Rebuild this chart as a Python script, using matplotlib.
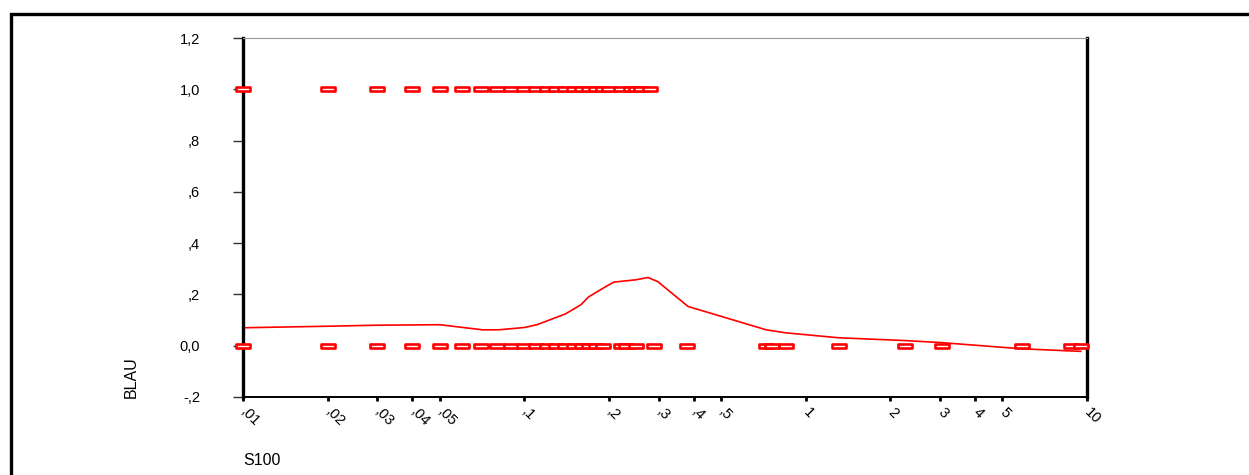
import numpy as np
import matplotlib
matplotlib.use("Agg")
import matplotlib.pyplot as plt
from matplotlib.path import Path
from matplotlib.patches import Rectangle

plt.rcParams['font.family'] = ['Liberation Sans', 'DejaVu Sans']

# observed cases (BLAU = 1)
s100_blau1 = [0.01, 0.02, 0.03, 0.04, 0.05, 0.06, 0.07, 0.08, 0.09, 0.1, 0.11, 0.12,
              0.13, 0.14, 0.15, 0.16, 0.17, 0.18, 0.19, 0.2, 0.22, 0.24, 0.25, 0.26, 0.28]
# observed cases (BLAU = 0)
s100_blau0 = [0.01, 0.02, 0.03, 0.04, 0.05, 0.06, 0.07, 0.08, 0.09, 0.1, 0.11, 0.12,
              0.13, 0.14, 0.15, 0.16, 0.17, 0.18, 0.19, 0.22, 0.23, 0.25, 0.29, 0.38,
              0.72, 0.76, 0.85, 1.31, 2.26, 3.04, 5.86, 8.8, 9.5]
# smoothed fit line
fit_x = [0.01, 0.02, 0.03, 0.04, 0.05, 0.071, 0.081, 0.1, 0.111, 0.14, 0.159, 0.169,
         0.195, 0.208, 0.249, 0.275, 0.298, 0.382, 0.724, 0.853, 1.31, 2.26, 3.04, 5.86, 9.5]
fit_y = [0.070, 0.076, 0.080, 0.081, 0.082, 0.062, 0.062, 0.071, 0.082, 0.124, 0.160, 0.190,
         0.231, 0.248, 0.257, 0.266, 0.250, 0.153, 0.062, 0.050, 0.031, 0.020, 0.012, -0.012, -0.022]

xticks = [0.01, 0.02, 0.03, 0.04, 0.05, 0.1, 0.2, 0.3, 0.4, 0.5, 1, 2, 3, 4, 5, 10]
xlabels = [',01', ',02', ',03', ',04', ',05', ',1', ',2', ',3', ',4', ',5',
           '1', '2', '3', '4', '5', '10']
yticks = [-0.2, 0.0, 0.2, 0.4, 0.6, 0.8, 1.0, 1.2]
ylabels = ['-,2', '0,0', ',2', ',4', ',6', ',8', '1,0', '1,2']

W, H = 1249, 475
fig = plt.figure(figsize=(W / 100, H / 100), dpi=100)
ax = fig.add_axes([243 / W, 1 - 397 / H, (1087 - 243) / W, (397 - 38) / H])

box = Path([(-1, -0.33), (1, -0.33), (1, 0.33), (-1, 0.33), (-1, -0.33)],
           [Path.MOVETO, Path.LINETO, Path.LINETO, Path.LINETO, Path.CLOSEPOLY])

ax.plot(fit_x, fit_y, color='red', lw=1.2, zorder=2)
ax.plot(s100_blau1, np.ones(len(s100_blau1)), ls='none', marker=box, ms=10.5,
        mfc='white', mec='red', mew=1.9, zorder=3, clip_on=False)
ax.plot(s100_blau0, np.zeros(len(s100_blau0)), ls='none', marker=box, ms=10.5,
        mfc='white', mec='red', mew=1.9, zorder=3, clip_on=False)

ax.set_xscale('log')
ax.set_xlim(0.01, 10)
ax.set_ylim(-0.2, 1.2)
ax.minorticks_off()

ax.set_xticks(xticks)
ax.set_xticklabels([])
ax.tick_params(axis='x', length=3, width=2, color='black', direction='out')
for v, lab in zip(xticks, xlabels):
    ax.annotate(lab, xy=(v, 0), xycoords=('data', 'axes fraction'),
                xytext=(5, -8), textcoords='offset pixels',
                ha='left', va='top', rotation=-45, rotation_mode='anchor',
                fontsize=10.5, annotation_clip=False)

ax.set_yticks(yticks)
ax.set_yticklabels(ylabels, fontsize=10.5)
ax.tick_params(axis='y', length=7, width=1, color='#333333', pad=24)

ax.spines['left'].set_linewidth(2.4)
ax.spines['right'].set_linewidth(2.4)
ax.spines['bottom'].set_linewidth(1.4)
ax.spines['top'].set_linewidth(0.8)
ax.spines['top'].set_color('#9a9a9a')

fig.text(131 / W, 1 - 398 / H, 'BLAU', rotation=90, ha='center', va='bottom', fontsize=11.5)
fig.text(243 / W, 1 - 468 / H, 'S100', ha='left', va='bottom', fontsize=11.5)

fig.patches.append(Rectangle((11 / W, -0.2), 1.2, 1 - 14 / H + 0.2, transform=fig.transFigure,
                             fill=False, edgecolor='black', lw=2.4, clip_on=False))

fig.savefig('out.png', dpi=100)
